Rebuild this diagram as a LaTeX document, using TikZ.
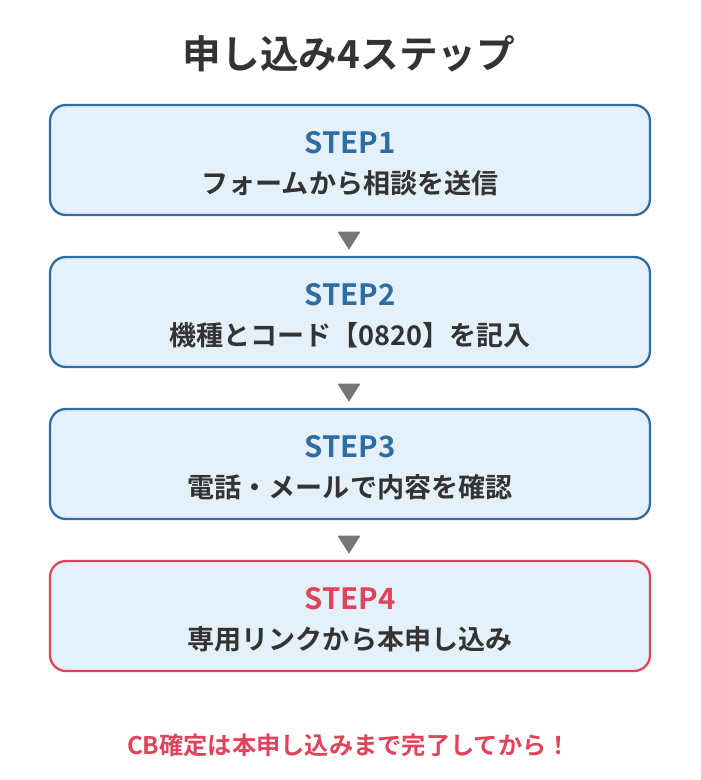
\documentclass[tikz,border=0pt]{standalone}
\usepackage{fontspec}
\setmainfont{Noto Sans CJK JP}[BoldFont={Noto Sans CJK JP Bold}]
\usetikzlibrary{shapes.geometric}
\definecolor{stepblue}{HTML}{2E6DA4}
\definecolor{stepred}{HTML}{E0435C}
\definecolor{boxfill}{HTML}{E4F1FA}
\definecolor{darktext}{HTML}{333333}
\definecolor{arrowgray}{HTML}{777777}
\tikzset{
  step/.style={draw=#1, line width=1.3pt, fill=boxfill, rounded corners=9pt,
    minimum width=12cm, minimum height=2.2cm},
  steptitle/.style={font=\bfseries\fontsize{16.7}{19}\selectfont, text=#1},
  stepbody/.style={font=\bfseries\fontsize{15.4}{18}\selectfont, text=darktext},
  down/.style={isosceles triangle, shape border rotate=-90, fill=arrowgray,
    isosceles triangle apex angle=65, inner sep=0pt, minimum height=0.36cm}
}
\begin{document}
\begin{tikzpicture}[x=0.02cm, y=-0.02cm]
    \useasboundingbox (0,0) rectangle (700,780);

      % title
      \node[font=\bfseries\fontsize{22}{26}\selectfont, text=darktext] (title) at (349,54) {申し込み4ステップ};

      % boxes
      \node[step=stepblue] (s1) at (350,160) {};
      \node[step=stepblue] (s2) at (350,312) {};
      \node[step=stepblue] (s3) at (350,464) {};
      \node[step=stepred]  (s4) at (350,616) {};

      \node[steptitle=stepblue] at (350,143) {STEP1};
      \node[stepbody] at (350,183) {フォームから相談を送信};
      \node[steptitle=stepblue] at (350,295) {STEP2};
      \node[stepbody] at (350,335) {機種とコード【0820】を記入};
      \node[steptitle=stepblue] at (350,447) {STEP3};
      \node[stepbody] at (350,487) {電話・メールで内容を確認};
      \node[steptitle=stepred] at (350,599) {STEP4};
      \node[stepbody] at (350,639) {専用リンクから本申し込み};

      % arrows between boxes
      \node[down] (d1) at (349,238) {};
      \node[down] (d2) at (349,390) {};
      \node[down] (d3) at (349,542) {};

      % note
      \node[font=\bfseries\fontsize{13.8}{16}\selectfont, text=stepred] (note) at (349,745) {CB確定は本申し込みまで完了してから！};
    \end{tikzpicture}
\end{document}
